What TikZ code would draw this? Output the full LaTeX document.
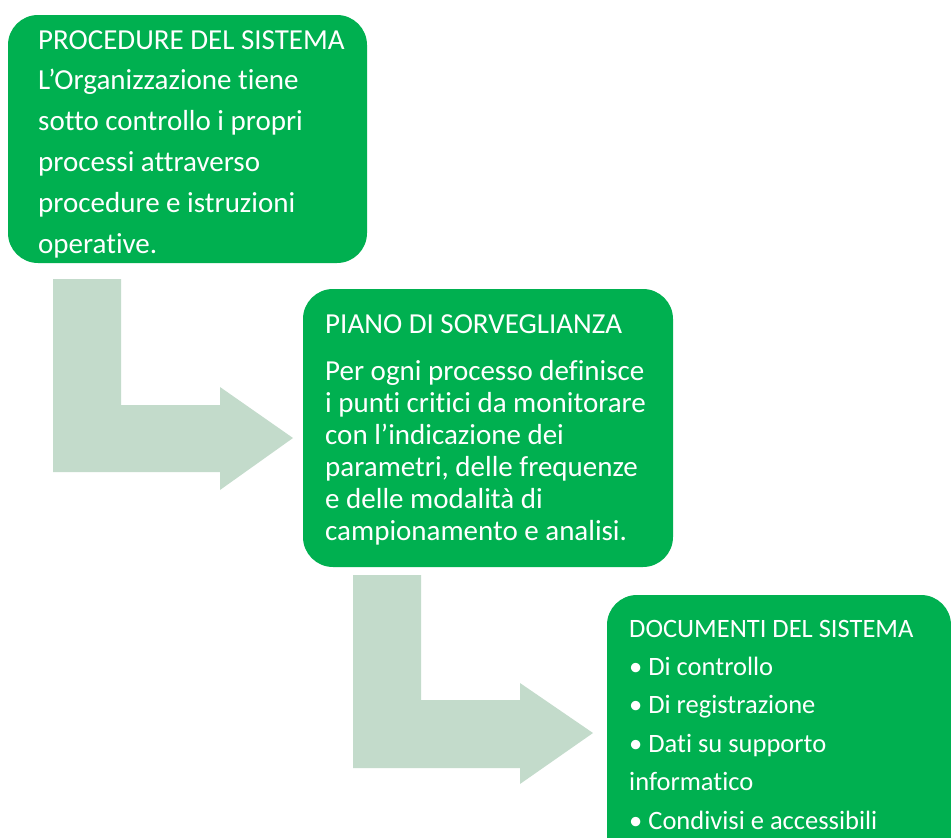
\documentclass[tikz,border=0pt]{standalone}
\usepackage{fontspec}
\setmainfont{Carlito}[Ligatures=NoCommon]
\usepackage{xcolor}
\usepackage{tikz}
\usetikzlibrary{positioning}
\definecolor{boxgreen}{HTML}{00B050}
\definecolor{arrowgreen}{HTML}{C3DBCB}

\begin{document}
\begin{tikzpicture}[x=1pt,y=-1pt,
	greenbox/.style={anchor=north west,fill=boxgreen,rounded corners=30pt,inner sep=0pt,outer sep=0pt},
	boxtext/.style={anchor=base west,inner sep=0pt,text=white},
	arrowfill/.style={fill=arrowgreen}]
		\useasboundingbox (0,0) rectangle (951,838);
		\clip (0,0) rectangle (951,838);

		% boxes
		\node[greenbox,minimum width=359pt,minimum height=248pt] (proc) at (8,15) {};
		\node[greenbox,minimum width=370pt,minimum height=278pt] (piano) at (303,289) {};
		\node[greenbox,minimum width=344pt,minimum height=280pt] (docs) at (607,595) {};

		% bent arrows
		\fill[arrowfill] ([shift={(45,16)}]proc.south west) -- ++(68,0) -- ++(0,126) -- ++(99,0) -- ++(0,-18)
			-- ++(73,51) -- ++(-73,52) -- ++(0,-18) -- ++(-167,0) -- cycle;
		\fill[arrowfill] ([shift={(50,8)}]piano.south west) -- ++(68,0) -- ++(0,125) -- ++(99,0) -- ++(0,-17)
			-- ++(73,50) -- ++(-73,51) -- ++(0,-16) -- ++(-167,0) -- cycle;

		% texts
		\node[boxtext] (proctxt) at ([shift={(30,34)}]proc.north west) {\fontsize{29}{40.8}\selectfont
			\begin{tabular}[t]{@{}l@{}}
			PROCEDURE DEL SISTEMA\\
			L’Organizzazione tiene\\
			sotto controllo i propri\\
			processi attraverso\\
			procedure e istruzioni\\
			operative.
			\end{tabular}};
		\node[boxtext] (pianotxt) at ([shift={(22,44)}]piano.north west) {\fontsize{29}{32}\selectfont
			\begin{tabular}[t]{@{}l@{}}
			PIANO DI SORVEGLIANZA\\[15pt]
			Per ogni processo definisce\\
			i punti critici da monitorare\\
			con l’indicazione dei\\
			parametri, delle frequenze\\
			e delle modalità di\\
			campionamento e analisi.
			\end{tabular}};
		\node[boxtext] (docstxt) at ([shift={(22,42)}]docs.north west) {\fontsize{26.5}{38.4}\selectfont
			\begin{tabular}[t]{@{}l@{}}
			DOCUMENTI DEL SISTEMA\\
			• Di controllo\\
			• Di registrazione\\
			• Dati su supporto\\
			informatico\\
			• Condivisi e accessibili
			\end{tabular}};
\end{tikzpicture}
\end{document}
